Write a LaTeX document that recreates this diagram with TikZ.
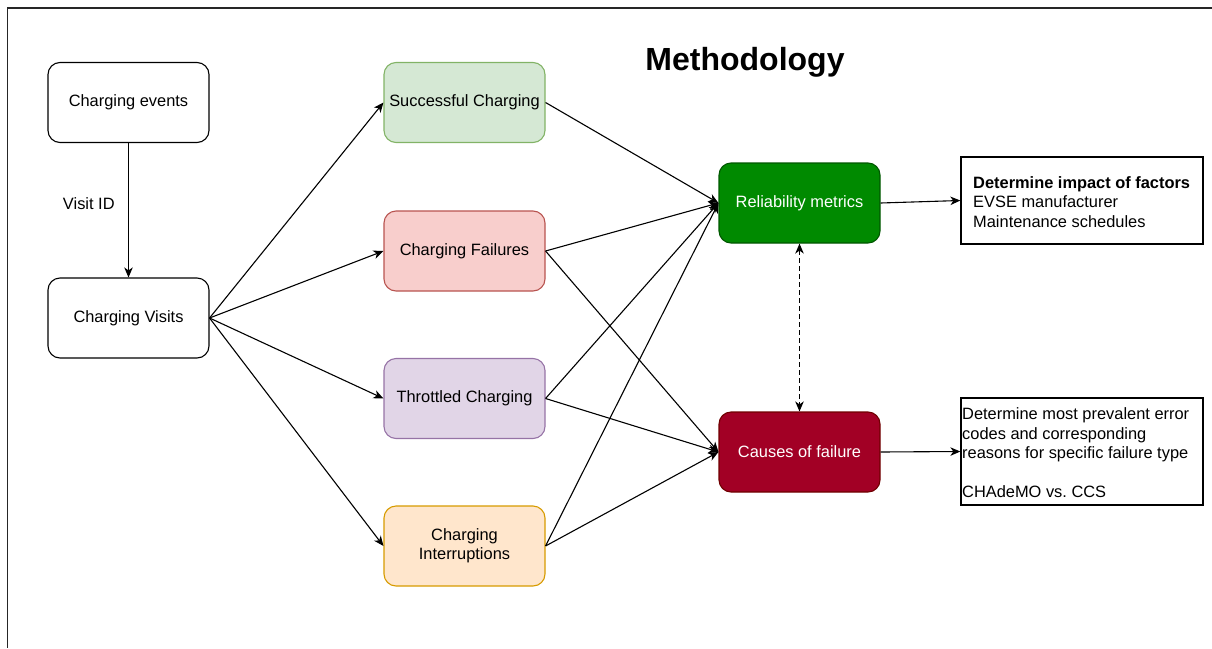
\documentclass[tikz,border=0pt]{standalone}
\usepackage{fontspec}
\setmainfont{Liberation Sans}
\usetikzlibrary{arrows.meta}
\frenchspacing

\definecolor{okfill}{HTML}{D5E8D4}\definecolor{okline}{HTML}{82B366}
\definecolor{failfill}{HTML}{F8CECC}\definecolor{failline}{HTML}{B85450}
\definecolor{thrfill}{HTML}{E1D5E7}\definecolor{thrline}{HTML}{9673A6}
\definecolor{intfill}{HTML}{FFE6CC}\definecolor{intline}{HTML}{D79B00}
\definecolor{relfill}{HTML}{008A00}\definecolor{relline}{HTML}{005700}
\definecolor{caufill}{HTML}{A20025}\definecolor{cauline}{HTML}{6F0000}

\tikzset{
  x=1pt, y=-1pt,
  every node/.style={font=\fontsize{16.4}{19.5}\selectfont},
  stepbox/.style={draw, line width=1.1pt, rounded corners=12pt,
    minimum width=161pt, minimum height=80pt, align=center, inner sep=2pt},
  notebox/.style={draw, line width=1.3pt, minimum width=242pt},
  notetext/.style={anchor=west, align=flush left, inner sep=0pt},
  flowtip/.tip={Stealth[length=10pt,width=8.5pt,inset=3pt]},
  link/.style={line width=1.1pt, -flowtip},
}

\begin{document}
\begin{tikzpicture}
\useasboundingbox (0,0) rectangle (1212,648);

% page frame (top and left edges)
\draw[line width=1.6pt, black!85] (1212,8) -- (7.5,8) -- (7.5,648);

% title
\node[font=\bfseries\fontsize{32}{36}\selectfont] (title) at (745,62) {Methodology};

% data preparation
\node[stepbox] (events) at (128.5,102.5) {Charging events};
\node[stepbox] (visits) at (128.5,318) {Charging Visits};

% outcome categories
\node[stepbox, fill=okfill, draw=okline] (success) at (464.5,102.5) {Successful Charging};
\node[stepbox, fill=failfill, draw=failline] (fail) at (464.5,251) {Charging Failures};
\node[stepbox, fill=thrfill, draw=thrline] (throttle) at (464.5,398.5) {Throttled Charging};
\node[stepbox, fill=intfill, draw=intline] (interrupt) at (464.5,546) {Charging\\Interruptions};

% analyses
\node[stepbox, fill=relfill, draw=relline, text=white] (relia) at (799.5,203) {Reliability metrics};
\node[stepbox, fill=caufill, draw=cauline, text=white] (causes) at (799.5,452) {Causes of failure};

% findings
\node[notebox, minimum height=87pt] (impact) at (1082,200.5) {};
\node[notetext] (impacttext) at (973,202)
  {\textbf{Determine impact of factors}\\EVSE manufacturer\\Maintenance schedules};
\node[notebox, minimum height=107pt] (errors) at (1082,451.5) {};
\node[notetext] (errorstext) at (962,453)
  {Determine most prevalent error\\codes and corresponding\\reasons for specific failure type\\[19.5pt]CHAdeMO vs. CCS};

% connectors
\draw[link] (events) -- node[left=10pt, pos=0.45] (visitid) {Visit ID} (visits);

\foreach \t in {success, fail, throttle, interrupt}
  \draw[link] (visits.east) -- (\t.west);

\draw[link] (success.east) -- (relia.west);
\foreach \s in {fail, throttle, interrupt} {
  \draw[link] (\s.east) -- (relia.west);
  \draw[link] (\s.east) -- (causes.west);
}

\draw[link] (relia.east) -- (impact.west);
\draw[link] (causes.east) -- (errors.west);

\draw[line width=1.3pt, dash pattern=on 5pt off 3pt, flowtip-flowtip]
  (relia.south) -- (causes.north);
\end{tikzpicture}
\end{document}
